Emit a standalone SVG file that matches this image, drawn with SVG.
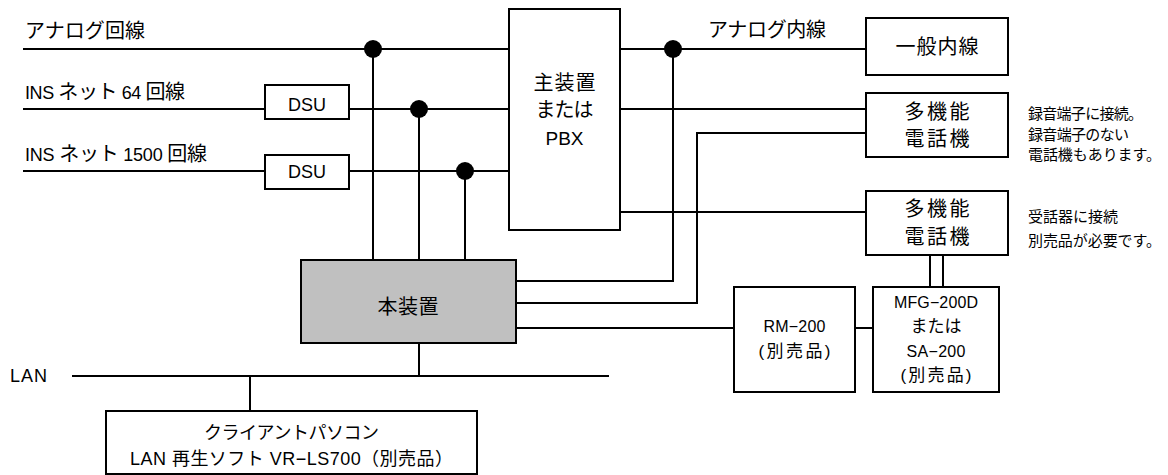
<svg xmlns="http://www.w3.org/2000/svg" width="1168" height="475" viewBox="0 0 1168 475">
<style>
.box{fill:#fff;stroke:#000;stroke-width:2}
.grey{fill:#c0c0c0;stroke:#000;stroke-width:2}
.ln{stroke:#000;stroke-width:2;fill:none}
.dot{fill:#000}
text{font-family:"Liberation Sans","Noto Sans CJK JP",sans-serif;fill:#000}
.t20{font-size:20px}
.t18{font-size:18px}
.t17{font-size:17px}
.t16{font-size:16px}
.t14{font-size:15px}
.c{text-anchor:middle}
</style>
<rect width="1168" height="475" fill="#fff"/>
<g id="connectors">
<path class="ln" d="M23 49H509M23 109H265M349 109H509M23 171H265M349 171H509"/>
<path class="ln" d="M373 49V260M419 109V260M465 171V260"/>
<path class="ln" d="M620 49H866M620 109H866M620 212H866"/>
<path class="ln" d="M673 49V281H516M866 133H697V303H516M516 328H734M855 328H873"/>
<path class="ln" d="M930 255V287M943 255V287"/>
<path class="ln" d="M419 343V376M72 376H609M250 376V411"/>
<circle class="dot" cx="373" cy="49" r="9"/>
<circle class="dot" cx="419" cy="109" r="9"/>
<circle class="dot" cx="465" cy="171" r="9"/>
<circle class="dot" cx="673" cy="49" r="9"/>
</g>
<g id="labels">
<text class="t20" x="25" y="38" textLength="120" lengthAdjust="spacing">アナログ回線</text>
<text class="t18" x="25" y="99" textLength="160" lengthAdjust="spacing">INS <tspan class="t20">ネット</tspan> 64 <tspan class="t20">回線</tspan></text>
<text class="t18" x="25" y="161" textLength="182" lengthAdjust="spacing">INS <tspan class="t20">ネット</tspan> 1500 <tspan class="t20">回線</tspan></text>
<text class="t20" x="708" y="37" textLength="118" lengthAdjust="spacing">アナログ内線</text>
<text class="t18" x="10" y="382" textLength="37" lengthAdjust="spacing">LAN</text>
</g>
<g id="dsu1">
<rect class="box" x="265" y="85" width="84" height="34"/>
<text class="t18 c" x="307" y="111">DSU</text>
</g>
<g id="dsu2">
<rect class="box" x="265" y="155" width="84" height="34"/>
<text class="t18 c" x="307" y="178">DSU</text>
</g>
<g id="pbx">
<rect class="box" x="509" y="9" width="111" height="221"/>
<text class="t20 c" x="564.5" y="89.5" textLength="62" lengthAdjust="spacing">主装置</text>
<text class="t20 c" x="564.5" y="117" textLength="58" lengthAdjust="spacing">または</text>
<text class="c" style="font-size:19px" x="564.5" y="145" textLength="38" lengthAdjust="spacing">PBX</text>
</g>
<g id="honsouchi">
<rect class="grey" x="301" y="260" width="215" height="83"/>
<text class="t20 c" x="408" y="313.5" textLength="61" lengthAdjust="spacing">本装置</text>
</g>
<g id="ippan">
<rect class="box" x="866" y="18" width="142" height="57"/>
<text class="t20 c" x="937" y="54" textLength="83" lengthAdjust="spacing">一般内線</text>
</g>
<g id="phone1">
<rect class="box" x="866" y="93" width="142" height="64"/>
<text class="t20 c" x="937" y="118.5" textLength="65" lengthAdjust="spacing">多機能</text>
<text class="t20 c" x="937" y="145.5" textLength="65" lengthAdjust="spacing">電話機</text>
</g>
<g id="note1">
<text class="t14" x="1028" y="119" textLength="115" lengthAdjust="spacing">録音端子に接続。</text>
<text class="t14" x="1028" y="140" textLength="101" lengthAdjust="spacing">録音端子のない</text>
<text class="t14" x="1028" y="160" textLength="133" lengthAdjust="spacing">電話機もあります。</text>
</g>
<g id="phone2">
<rect class="box" x="866" y="191" width="142" height="64"/>
<text class="t20 c" x="937" y="215.5" textLength="65" lengthAdjust="spacing">多機能</text>
<text class="t20 c" x="937" y="243.5" textLength="65" lengthAdjust="spacing">電話機</text>
</g>
<g id="note2">
<text class="t14" x="1028" y="222" textLength="90" lengthAdjust="spacing">受話器に接続</text>
<text class="t14" x="1028" y="246" textLength="133" lengthAdjust="spacing">別売品が必要です。</text>
</g>
<g id="rm200">
<rect class="box" x="734" y="287" width="121" height="105"/>
<text class="t16 c" x="794.5" y="332" textLength="62" lengthAdjust="spacing">RM−200</text>
<text class="t17 c" x="794.5" y="357" textLength="72" lengthAdjust="spacing">(別売品)</text>
</g>
<g id="mfg">
<rect class="box" x="873" y="287" width="126" height="105"/>
<text class="t16 c" x="936" y="308" textLength="84" lengthAdjust="spacing">MFG−200D</text>
<text class="t17 c" x="936" y="332" textLength="51" lengthAdjust="spacing">または</text>
<text class="t16 c" x="936" y="357" textLength="59" lengthAdjust="spacing">SA−200</text>
<text class="t17 c" x="936" y="381" textLength="71" lengthAdjust="spacing">(別売品)</text>
</g>
<g id="client">
<rect class="box" x="106" y="411" width="371" height="63"/>
<text class="c" style="font-size:18px" x="291.5" y="439" textLength="175" lengthAdjust="spacing">クライアントパソコン</text>
<text class="c" style="font-size:18px" x="291.5" y="465" textLength="323" lengthAdjust="spacing">LAN 再生ソフト VR−LS700（別売品）</text>
</g>
</svg>
